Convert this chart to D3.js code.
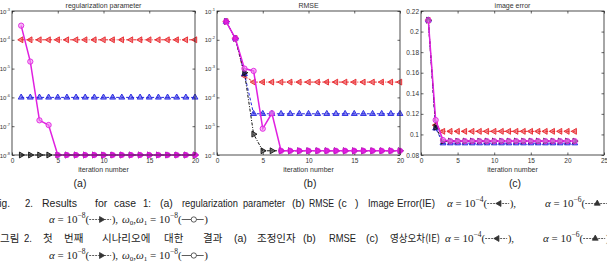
<!DOCTYPE html>
<html>
<head>
<meta charset="utf-8">
<script src="https://cdn.jsdelivr.net/npm/d3@7"></script>
<style>
  body { margin: 0; background: #fff; }
  svg { display: block; }
</style>
</head>
<body>
<svg id="chart" width="607" height="262"></svg>
<script>
// ---- data ----
var iter20 = [1,2,3,4,5,6,7,8,9,10,11,12,13,14,15,16,17,18,19,20];
var iter21 = [1,2,3,4,5,6,7,8,9,10,11,12,13,14,15,16,17,18,19,20,21];

// (a) regularization parameter
var regA4 = [1e-4,1e-4,1e-4,1e-4,1e-4,1e-4,1e-4,1e-4,1e-4,1e-4,1e-4,1e-4,1e-4,1e-4,1e-4,1e-4,1e-4,1e-4,1e-4,1e-4];
var regA6 = [1e-6,1e-6,1e-6,1e-6,1e-6,1e-6,1e-6,1e-6,1e-6,1e-6,1e-6,1e-6,1e-6,1e-6,1e-6,1e-6,1e-6,1e-6,1e-6,1e-6];
var regA8 = [1e-8,1e-8,1e-8,1e-8,1e-8,1e-8,1e-8,1e-8,1e-8,1e-8,1e-8,1e-8,1e-8,1e-8,1e-8,1e-8,1e-8,1e-8,1e-8,1e-8];
var regW  = [3.1e-4,1.75e-5,1.6e-7,1.1e-7,1e-8,1e-8,1e-8,1e-8,1e-8,1e-8,1e-8,1e-8,1e-8,1e-8,1e-8,1e-8,1e-8,1e-8,1e-8,1e-8];

// (b) RMSE
var rmseA4 = [0.043,0.0112,5.6e-4,3.4e-4,3.4e-4,3.4e-4,3.4e-4,3.4e-4,3.4e-4,3.4e-4,3.4e-4,3.4e-4,3.4e-4,3.4e-4,3.4e-4,3.4e-4,3.4e-4,3.4e-4,3.4e-4,3.4e-4];
var rmseA6 = [0.043,0.0112,6.5e-4,2.7e-5,2.7e-5,2.7e-5,2.7e-5,2.7e-5,2.7e-5,2.7e-5,2.7e-5,2.7e-5,2.7e-5,2.7e-5,2.7e-5,2.7e-5,2.7e-5,2.7e-5,2.7e-5,2.7e-5];
var rmseA8 = [0.043,0.0112,7.2e-4,5.3e-6,1.4e-6,1.4e-6,1.4e-6,1.4e-6,1.4e-6,1.4e-6,1.4e-6,1.4e-6,1.4e-6,1.4e-6,1.4e-6,1.4e-6,1.4e-6,1.4e-6,1.4e-6,1.4e-6];
var rmseW  = [0.043,0.0112,1.0e-3,8.3e-4,8.2e-6,2.8e-5,1.4e-6,1.4e-6,1.4e-6,1.4e-6,1.4e-6,1.4e-6,1.4e-6,1.4e-6,1.4e-6,1.4e-6,1.4e-6,1.4e-6,1.4e-6,1.4e-6];

// (c) image error
var ieA4 = [0.211,0.109,0.103,0.103,0.103,0.103,0.103,0.103,0.103,0.103,0.103,0.103,0.103,0.103,0.103,0.103,0.103,0.103,0.103,0.103,0.103];
var ieA6 = [0.211,0.106,0.0915,0.0915,0.0915,0.0915,0.0915,0.0915,0.0915,0.0915,0.0915,0.0915,0.0915,0.0915,0.0915,0.0915,0.0915,0.0915,0.0915,0.0915,0.0915];
var ieA8 = [0.211,0.107,0.0935,0.0935,0.0935,0.0935,0.0935,0.0935,0.0935,0.0935,0.0935,0.0935,0.0935,0.0935,0.0935,0.0935,0.0935,0.0935,0.0935,0.0935,0.0935];
var ieW  = [0.211,0.114,0.0945,0.0935,0.0935,0.0935,0.0935,0.0935,0.0935,0.0935,0.0935,0.0935,0.0935,0.0935,0.0935,0.0935,0.0935,0.0935,0.0935,0.0935,0.0935];

var xTicks20 = [0,5,10,15,20];
var xTicks25 = [0,5,10,15,20,25];
var regTicks = [1e-8,1e-7,1e-6,1e-5,1e-4,1e-3];
var rmseTicks = [1e-6,1e-5,1e-4,1e-3,1e-2,1e-1];
var ieTicks = [0.08,0.1,0.12,0.14,0.16,0.18,0.2,0.22];

// ---- styles ----
var styles = {
  a4: { color: "#e8262b", dash: "3,1.5,1,1.5", marker: "left",  width: 1 },
  a6: { color: "#2525e0", dash: "3,2",         marker: "up",    width: 1 },
  a8: { color: "#111111", dash: "3,1.5,1,1.5", marker: "right", width: 1 },
  w:  { color: "#e020e0", dash: null,          marker: "circle",width: 1.5 }
};

var svg = d3.select("#chart");
var top0 = 11, bot0 = 155;

var panels = [
  { x0: 12,  x1: 195, title: "regularization parameter", label: "(a)", labelX: 80,
    xDom: [0,20], xTicks: xTicks20, log: true, yDom: [1e-8,1e-3], yTicks: regTicks,
    xs: iter20, series: [["a4",regA4],["a6",regA6],["a8",regA8],["w",regW]] },
  { x0: 217, x1: 400, title: "RMSE", label: "(b)", labelX: 310,
    xDom: [0,20], xTicks: xTicks20, log: true, yDom: [1e-6,1e-1], yTicks: rmseTicks,
    xs: iter20, series: [["a4",rmseA4],["a6",rmseA6],["a8",rmseA8],["w",rmseW]] },
  { x0: 421, x1: 604, title: "image error", label: "(c)", labelX: 515,
    xDom: [0,25], xTicks: xTicks25, log: false, yDom: [0.08,0.22], yTicks: ieTicks,
    xs: iter21, series: [["a4",ieA4],["a6",ieA6],["a8",ieA8],["w",ieW]] }
];

function markerPath(kind) {
  if (kind === "circle") return d3.symbol().type(d3.symbolCircle).size(22)();
  return d3.symbol().type(d3.symbolTriangle).size(15)();
}
function markerRot(kind) {
  return kind === "left" ? -90 : kind === "right" ? 90 : 0;
}

panels.forEach(function(p) {
  var x = d3.scaleLinear().domain(p.xDom).range([p.x0, p.x1]);
  var y = (p.log ? d3.scaleLog() : d3.scaleLinear()).domain(p.yDom).range([bot0, top0]);
  var g = svg.append("g");

  // axes with inward ticks (matlab style)
  var fmtLin = function(d) { return d3.format("")(+d.toFixed(2)); };
  var ax = g.append("g").attr("transform", "translate(0," + bot0 + ")")
    .call(d3.axisBottom(x).tickValues(p.xTicks).tickSize(-2.5).tickPadding(3));
  var axT = g.append("g").attr("transform", "translate(0," + top0 + ")")
    .call(d3.axisTop(x).tickValues(p.xTicks).tickSize(-2.5).tickFormat(""));
  var ay = g.append("g").attr("transform", "translate(" + p.x0 + ",0)")
    .call(d3.axisLeft(y).tickValues(p.yTicks).tickSize(-2.5).tickPadding(2)
      .tickFormat(p.log ? "" : fmtLin));
  var ayR = g.append("g").attr("transform", "translate(" + p.x1 + ",0)")
    .call(d3.axisRight(y).tickValues(p.yTicks).tickSize(-2.5).tickFormat(""));

  [ax, axT, ay, ayR].forEach(function(a) {
    a.select(".domain").remove();
    a.selectAll(".tick line").attr("stroke", "#222").attr("stroke-width", 0.7);
    a.selectAll("text").attr("font-family", "Liberation Sans, Arial, sans-serif")
      .attr("font-size", 6.5).attr("fill", "#333");
  });

  if (p.log) {
    // 10^n labels
    ay.selectAll(".tick text").each(function(d) {
      var t = d3.select(this).text("");
      t.append("tspan").text("10").attr("font-size", 6);
      t.append("tspan").text(Math.round(Math.log10(d))).attr("font-size", 4).attr("dy", -3);
    });
  }

  // series
  var byKey = {};
  p.series.forEach(function(s) { byKey[s[0]] = s[1]; });
  p.series.forEach(function(s) {
    var st = styles[s[0]];
    var pts = s[1].map(function(v, i) { return [x(p.xs[i]), y(v)]; });
    g.append("path").datum(pts)
      .attr("d", d3.line())
      .attr("fill", "none")
      .attr("stroke", st.color)
      .attr("stroke-width", st.width)
      .attr("stroke-dasharray", st.dash);
    g.selectAll(null).data(pts).enter().append("path")
      .attr("d", markerPath(st.marker))
      .attr("transform", function(d) {
        return "translate(" + d[0] + "," + d[1] + ") rotate(" + markerRot(st.marker) + ")";
      })
      .attr("fill", s[0] === "w" ? "#f08cf0" : st.color)
      .attr("fill-opacity", s[0] === "w" ? 0.6 : 0.55)
      .attr("stroke", st.color)
      .attr("stroke-width", 0.9);
  });
  // where the alpha=1e-8 run sits under the magenta run, its triangles show tinted magenta
  if (p.log) {
    var shared = byKey.a8.map(function(v, i) { return [i, v]; })
      .filter(function(d) { return d[1] === byKey.w[d[0]]; })
      .map(function(d) { return [x(p.xs[d[0]]), y(d[1])]; });
    g.selectAll(null).data(shared).enter().append("path")
      .attr("d", markerPath("right"))
      .attr("transform", function(d) { return "translate(" + d[0] + "," + d[1] + ") rotate(90)"; })
      .attr("fill", "#e020e0").attr("stroke", "#d010d0").attr("stroke-width", 0.9);
  }

  // frame
  g.append("rect").attr("x", p.x0).attr("y", top0)
    .attr("width", p.x1 - p.x0).attr("height", bot0 - top0)
    .attr("fill", "none").attr("stroke", "#222").attr("stroke-width", 0.8);

  // titles and labels
  g.append("text").attr("x", (p.x0 + p.x1) / 2).attr("y", 7.5)
    .attr("text-anchor", "middle").attr("font-family", "Liberation Sans, Arial, sans-serif")
    .attr("font-size", 7).attr("fill", "#333").text(p.title);
  g.append("text").attr("x", (p.x0 + p.x1) / 2).attr("y", 172)
    .attr("text-anchor", "middle").attr("font-family", "Liberation Sans, Arial, sans-serif")
    .attr("font-size", 7).attr("fill", "#333").text("iteration number");
  g.append("text").attr("x", p.labelX).attr("y", 187)
    .attr("text-anchor", "middle").attr("font-family", "Liberation Sans, Arial, sans-serif")
    .attr("font-size", 10.5).attr("fill", "#222").text(p.label);
});

// ---- caption ----
var cap = svg.append("g").attr("fill", "#222");
var sans = "Liberation Sans, Arial, sans-serif";
var kor = "Noto Sans CJK KR, sans-serif";
var serif = "Liberation Serif, DejaVu Serif, serif";

// [word, x, max width]
var line1Words = [["Fig.",-7,17],["2.",25,8],["Results",42,42],["for",95,13],["case",114,22],["1:",143,8],
  ["(a)",160,15],["regularization",182,56],["parameter",243,42],["(b)",292,14],["RMSE",309,25],
  ["(c",338,10],[")",355,4],["Image",368,26],["Error(IE)",397,38]];
var line3Words = [["그림",0,20],["2.",24,8],["첫",43,11],["번째",64,22],["시나리오에",102,52],["대한",164,22],
  ["결과",203,22],["(a)",234,15],["조정인자",257,42],["(b)",303,15],["RMSE",329,27],["(c)",366,15],
  ["영상오차(IE)",390,50]];

function placeWords(words, yp, size) {
  words.forEach(function(w) {
    var t = cap.append("text").attr("x", w[1]).attr("y", yp)
      .attr("font-family", /[가-힣]/.test(w[0]) ? kor : sans).attr("font-size", size).text(w[0]);
    if (t.node().getComputedTextLength() > w[2]) {
      t.attr("textLength", w[2]).attr("lengthAdjust", "spacingAndGlyphs");
    }
  });
}
placeWords(line1Words, 207, 10.5);
placeWords(line3Words, 242, 10.5);

// math item: alpha = 10^e (swatch) ,
function mathItem(xp, yp, sym, sub2, exp, marker, tail) {
  var t = cap.append("text").attr("x", xp).attr("y", yp).attr("font-family", serif).attr("font-size", 11);
  if (sub2) {
    t.append("tspan").attr("font-style", "italic").text("ω");
    t.append("tspan").attr("font-size", 7).attr("dy", 2).text("0");
    t.append("tspan").attr("dy", -2).text(",");
    t.append("tspan").attr("font-style", "italic").text("ω");
    t.append("tspan").attr("font-size", 7).attr("dy", 2).text("1");
    t.append("tspan").attr("dy", -2).text(" = 10");
  } else {
    t.append("tspan").attr("font-style", "italic").text(sym);
    t.append("tspan").text(" = 10");
  }
  t.append("tspan").attr("font-size", 7.5).attr("dy", -5).text("−" + exp);
  t.append("tspan").attr("dy", 5).text("(");
  var len = t.node().getComputedTextLength();
  var sx = xp + len, sw = 22, my = yp - 3.5;
  cap.append("line").attr("x1", sx).attr("x2", sx + sw).attr("y1", my).attr("y2", my)
    .attr("stroke", "#333").attr("stroke-width", 0.8).attr("stroke-dasharray", marker === "circle" ? null : "2,1");
  cap.append("path").attr("d", markerPath(marker))
    .attr("transform", "translate(" + (sx + sw * 0.55) + "," + my + ") rotate(" + markerRot(marker) + ")")
    .attr("fill", marker === "circle" ? "#fff" : "#333").attr("stroke", "#333").attr("stroke-width", 0.8);
  cap.append("text").attr("x", sx + sw + 0.5).attr("y", yp).attr("font-family", serif).attr("font-size", 11).text(tail);
}

mathItem(447, 207, "α", false, 4, "left", "),");
mathItem(545, 207, "α", false, 6, "up", "),");
mathItem(49, 223, "α", false, 8, "right", "),");
mathItem(122, 223, null, true, 8, "circle", ")");
mathItem(445, 242, "α", false, 4, "left", "),");
mathItem(543, 242, "α", false, 6, "up", "),");
mathItem(49, 259, "α", false, 8, "right", "),");
mathItem(122, 259, null, true, 8, "circle", ")");
</script>
</body>
</html>
